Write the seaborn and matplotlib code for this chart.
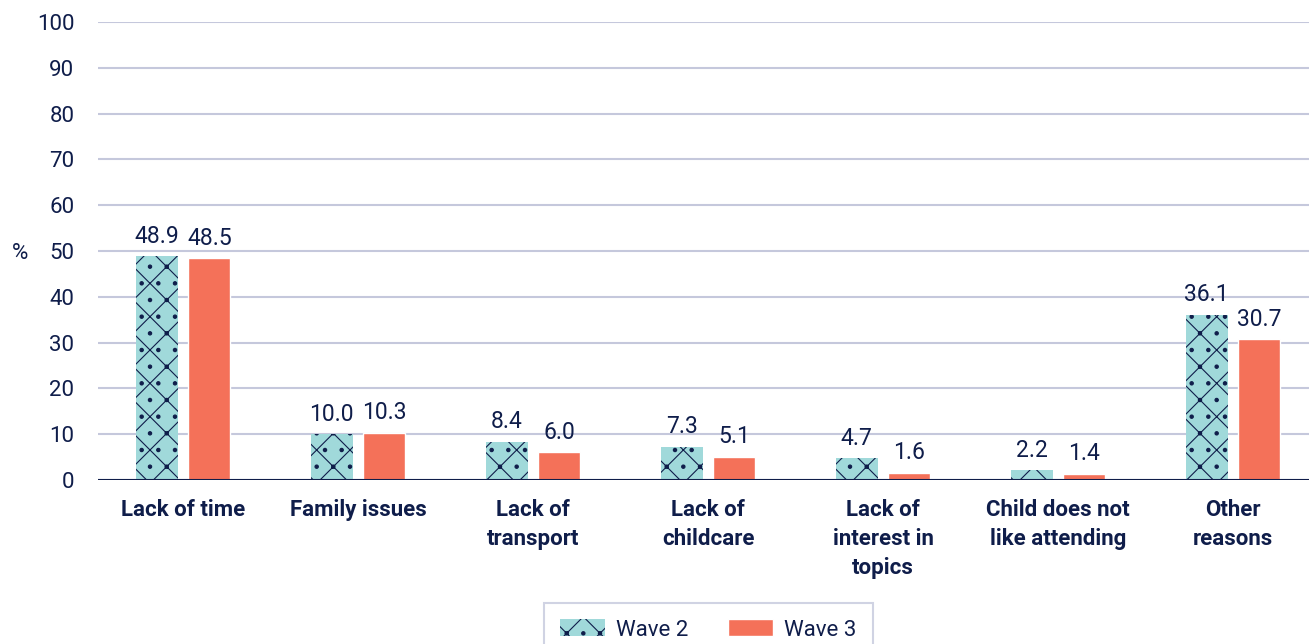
import matplotlib
matplotlib.use("Agg")
import matplotlib.pyplot as plt
import seaborn as sns
import pandas as pd

categories = ["Lack of time", "Family issues", "Lack of\ntransport", "Lack of\nchildcare",
              "Lack of\ninterest in\ntopics", "Child does not\nlike attending", "Other\nreasons"]
wave2 = [48.9, 10.0, 8.4, 7.3, 4.7, 2.2, 36.1]
wave3 = [48.5, 10.3, 6.0, 5.1, 1.6, 1.4, 30.7]
series = ["Wave 2", "Wave 3"]

navy = "#0f1d4a"
teal = "#a0d9da"
coral = "#f47159"
grid = "#c5c8dc"

df = pd.DataFrame({
    "cat": categories * 2,
    "val": wave2 + wave3,
    "wave": [series[0]] * len(categories) + [series[1]] * len(categories),
})

sns.set_style("white")
plt.rcParams["font.family"] = ["Roboto", "DejaVu Sans"]
plt.rcParams["hatch.color"] = navy
plt.rcParams["hatch.linewidth"] = 0.8

fig = plt.figure(figsize=(13.09, 6.44), dpi=100)
ax = fig.add_axes([0.0749, 0.2547, 0.925, 0.7111])

sns.barplot(data=df, x="cat", y="val", hue="wave", palette=[teal, coral],
            width=0.6, gap=0.2, ax=ax, legend=True, saturation=1)

# Wave 2 bars get the scattered-line texture
for p in ax.containers[0]:
    p.set_hatch("/\\.")
    p.set_edgecolor(navy)
    p.set_linewidth(0)

for c in ax.containers:
    ax.bar_label(c, fmt="%.1f", padding=6, fontsize=16.5, color=navy)

ax.set_ylim(0, 100)
ax.set_xlim(-0.486, 6.434)
ax.set_yticks(range(0, 101, 10))
ax.yaxis.grid(True, color=grid, linewidth=1.5)
ax.set_axisbelow(True)
for s in ax.spines.values():
    s.set_visible(False)
ax.axhline(0, color=navy, linewidth=1.5)
ax.tick_params(axis="y", length=0, pad=17, labelsize=16, labelcolor=navy)
ax.tick_params(axis="x", length=0, pad=14, labelsize=16, labelcolor=navy)
for t in ax.get_xticklabels():
    t.set_fontweight("bold")
    t.set_linespacing(1.4)
ax.set_xlabel("")
ax.set_ylabel("%", rotation=0, fontsize=16, color=navy, labelpad=0, va="center")
ax.yaxis.set_label_coords(-0.064, 0.495)

handles, labels = ax.get_legend_handles_labels()
ax.get_legend().remove()
handles[0].set_hatch("/\\.")
handles[0].set_edgecolor(navy)
handles[0].set_linewidth(0)
leg = fig.legend(handles, labels, loc="upper center", bbox_to_anchor=(0.541, 0.064),
                 ncol=2, frameon=True, fontsize=16, handlelength=2.0, handleheight=0.8,
                 handletextpad=0.5, columnspacing=1.8, fancybox=False, borderpad=0.75,
                 borderaxespad=0)
leg.get_frame().set_edgecolor(grid)
leg.get_frame().set_linewidth(1.5)
for t in leg.get_texts():
    t.set_color(navy)

fig.savefig("out.png", dpi=100)
